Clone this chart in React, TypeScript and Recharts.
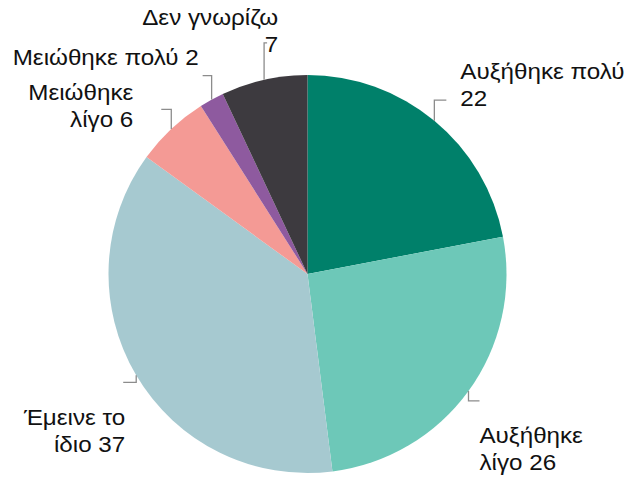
import React from "react";
import { PieChart, Pie, Cell } from "recharts";

const CATEGORIES = [
  "Αυξήθηκε πολύ",
  "Αυξήθηκε λίγο",
  "Έμεινε το ίδιο",
  "Μειώθηκε λίγο",
  "Μειώθηκε πολύ",
  "Δεν γνωρίζω",
];
const VALUES = [22, 26, 37, 6, 2, 7];
const COLORS = ["#00806a", "#6dc8b8", "#a6c9d0", "#f49a95", "#8e5a9f", "#3d3a3f"];

// label layout: leader vertical (v), horizontal (h), text offset (dx, dy), anchor, words on first line
const LAYOUT = [
  { v: -20.5, h: 12, dx: 14, dy: -21, anchor: "start", first: 2 },
  { v: 10, h: 11, dx: 0, dy: 42, anchor: "start", first: 1 },
  { v: 7, h: -13, dx: 2, dy: 43, anchor: "end", first: 2 },
  { v: -19.5, h: -10, dx: -28, dy: -9.5, anchor: "end", first: 1 },
  { v: -24, h: -9, dx: -4, dy: -11, anchor: "end", first: 3 },
  { v: -37, h: 3, dx: 11, dy: -18, anchor: "end", first: 2 },
];

const data = CATEGORIES.map((name, i) => ({ name, value: VALUES[i] }));

const RAD = Math.PI / 180;

const renderLabel = (props: any) => {
  const { cx, cy, midAngle, outerRadius, index } = props;
  const L = LAYOUT[index];
  const x0 = cx + outerRadius * Math.cos(-midAngle * RAD);
  const y0 = cy + outerRadius * Math.sin(-midAngle * RAD);
  const x1 = x0;
  const y1 = y0 + L.v;
  const x2 = x1 + L.h;
  const y2 = y1;
  const words = `${CATEGORIES[index]} ${VALUES[index]}`.split(" ");
  const lines = [words.slice(0, L.first).join(" "), words.slice(L.first).join(" ")].filter(
    (s) => s.length > 0
  );
  const tx = x2 + L.dx;
  const ty = y2 + L.dy;
  return (
    <g>
      <polyline
        points={`${x0},${y0} ${x1},${y1} ${x2},${y2}`}
        fill="none"
        stroke="#8c8c8c"
        strokeWidth={1.3}
      />
      <g transform={`translate(${tx},${ty}) scale(1.1,1)`}>
        <text
          x={0}
          y={0}
          textAnchor={L.anchor as any}
          fill="#111"
          fontSize={22}
          fontFamily="'Liberation Sans', Arial, sans-serif"
        >
          {lines.map((ln, k) => (
            <tspan key={k} x={0} y={k * 27}>
              {ln}
            </tspan>
          ))}
        </text>
      </g>
    </g>
  );
};

export default function App() {
  return (
    <div style={{ position: "absolute", left: 0, top: 0, width: 640, height: 481, background: "#fff" }}>
      <PieChart width={640} height={481} margin={{ top: 0, right: 0, bottom: 0, left: 0 }}>
        <Pie
          data={data}
          dataKey="value"
          nameKey="name"
          cx={307.5}
          cy={274}
          outerRadius={199}
          startAngle={90}
          endAngle={-270}
          stroke="none"
          label={renderLabel}
          labelLine={false}
          isAnimationActive={false}
        >
          {data.map((d, i) => (
            <Cell key={d.name} fill={COLORS[i]} />
          ))}
        </Pie>
      </PieChart>
    </div>
  );
}
